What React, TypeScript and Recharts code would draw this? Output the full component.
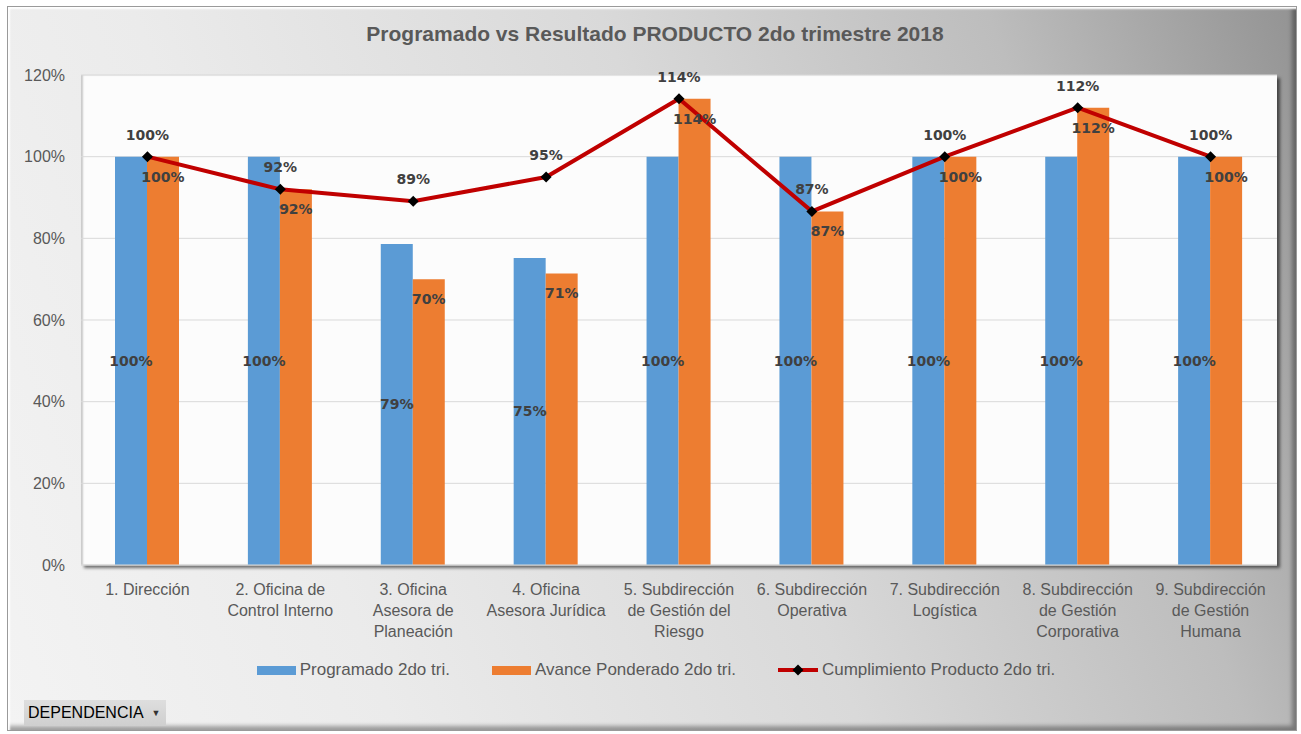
import React from 'react'
import {
  ComposedChart,
  Bar,
  Line,
  XAxis,
  YAxis,
  CartesianGrid,
  Legend,
  LabelList,
} from 'recharts'

const categorias = [
  '1. Dirección',
  '2. Oficina de Control Interno',
  '3. Oficina Asesora de Planeación',
  '4. Oficina Asesora Jurídica',
  '5. Subdirección de Gestión del Riesgo',
  '6. Subdirección Operativa',
  '7. Subdirección Logística',
  '8. Subdirección de Gestión Corporativa',
  '9. Subdirección de Gestión Humana',
]

const lineasEtiqueta = [
  ['1. Dirección'],
  ['2. Oficina de', 'Control Interno'],
  ['3. Oficina', 'Asesora de', 'Planeación'],
  ['4. Oficina', 'Asesora Jurídica'],
  ['5. Subdirección', 'de Gestión del', 'Riesgo'],
  ['6. Subdirección', 'Operativa'],
  ['7. Subdirección', 'Logística'],
  ['8. Subdirección', 'de Gestión', 'Corporativa'],
  ['9. Subdirección', 'de Gestión', 'Humana'],
]

const programado = [100, 100, 78.6, 75.2, 100, 100, 100, 100, 100]
const avance = [100, 92, 70, 71.4, 114.2, 86.6, 100, 112, 100]
const cumplimiento = [100, 92, 89.1, 95, 114.2, 86.6, 100, 112, 100]

const ticksY = [0, 20, 40, 60, 80, 100, 120]

const data = categorias.map((c, i) => ({
  dependencia: c,
  programado: programado[i],
  avance: avance[i],
  cumplimiento: cumplimiento[i],
}))

const FUENTE = '"Liberation Sans", Arial, sans-serif'
const FUENTE_DATOS = '"DejaVu Sans", Verdana, sans-serif'
const pct = (v: any) => `${Math.round(Number(v))}%`

function TickX(props: any) {
  const { x, y, payload } = props
  const idx = categorias.indexOf(payload.value)
  const lineas = lineasEtiqueta[idx] || [payload.value]
  return (
    <text x={x} y={y} textAnchor="middle" fill="#595959" fontSize={16} fontFamily={FUENTE}>
      {lineas.map((l, i) => (
        <tspan key={i} x={x} dy={i === 0 ? 28 : 21}>
          {l}
        </tspan>
      ))}
    </text>
  )
}

function Rombo(props: any) {
  const { cx, cy } = props
  if (cx == null || cy == null) return null
  const r = 5.5
  return <path d={`M${cx},${cy - r}L${cx + r},${cy}L${cx},${cy + r}L${cx - r},${cy}Z`} fill="#000" />
}

function Leyenda() {
  const item = { display: 'flex', alignItems: 'center', gap: 4 } as const
  return (
    <div
      style={{
        display: 'flex',
        justifyContent: 'center',
        gap: 42,
        paddingTop: 15,
        paddingLeft: 14,
        fontFamily: FUENTE,
        fontSize: 17,
        color: '#595959',
        lineHeight: '20px',
      }}
    >
      <div style={item}>
        <span style={{ width: 39, height: 9, background: '#5B9BD5', display: 'inline-block' }} />
        Programado 2do tri.
      </div>
      <div style={item}>
        <span style={{ width: 39, height: 9, background: '#ED7D31', display: 'inline-block' }} />
        Avance Ponderado 2do tri.
      </div>
      <div style={item}>
        <svg width={40} height={12}>
          <line x1={0} y1={6} x2={40} y2={6} stroke="#C00000" strokeWidth={4} />
          <path d="M20,0.5L25.5,6L20,11.5L14.5,6Z" fill="#000" />
        </svg>
        Cumplimiento Producto 2do tri.
      </div>
    </div>
  )
}

export default function App() {
  return (
    <div style={{ position: 'absolute', left: 0, top: 0, width: 1301, height: 734, background: '#fff' }}>
      <div
        style={{
          position: 'absolute',
          left: 7,
          top: 6,
          width: 1288,
          height: 723,
          border: '1px solid #9a9a9a',
          boxShadow: 'inset 2px 2px 2px #fff, inset -4px -4px 4px rgba(0,0,0,0.35)',
          background:
            'linear-gradient(250deg, #939393 0%, #bdbdbd 20%, #d9d9d9 45%, #ebebeb 75%, #f3f3f3 100%)',
        }}
      />
      <div
        style={{
          position: 'absolute',
          left: 81,
          top: 75,
          width: 1196,
          height: 490,
          background: '#fcfcfc',
          boxShadow: '3px 3px 3px rgba(0,0,0,0.55), inset 2px 0 2px rgba(0,0,0,0.2)',
        }}
      />
      <div
        style={{
          position: 'absolute',
          left: 0,
          top: 22,
          width: 1310,
          textAlign: 'center',
          fontFamily: FUENTE,
          fontWeight: 'bold',
          fontSize: 21,
          color: '#595959',
        }}
      >
        Programado vs Resultado PRODUCTO 2do trimestre 2018
      </div>
      <div style={{ position: 'absolute', left: 0, top: 0 }}>
        <ComposedChart
          width={1301}
          height={734}
          data={data}
          margin={{ top: 75, right: 24, left: 21, bottom: 45 }}
          barGap={0}
          barCategoryGap="26%"
        >
          <CartesianGrid vertical={false} stroke="#d9d9d9" />
          <XAxis
            dataKey="dependencia"
            tick={<TickX />}
            tickLine={false}
            tickSize={0}
            axisLine={{ stroke: '#d9d9d9' }}
            height={80}
            interval={0}
          />
          <YAxis
            domain={[0, 120]}
            ticks={ticksY}
            tickFormatter={(v) => `${v}%`}
            tickLine={false}
            axisLine={false}
            tickSize={0}
            tickMargin={16}
            width={60}
            tick={{ fill: '#595959', fontSize: 16, fontFamily: FUENTE }}
          />
          <Legend verticalAlign="bottom" height={44} content={<Leyenda />} />
          <Bar dataKey="programado" name="Programado 2do tri." fill="#5B9BD5" barSize={32} isAnimationActive={false}>
            <LabelList
              dataKey="programado"
              position="center"
              formatter={pct}
              fill="#404040"
              fontSize={14}
              fontWeight="bold"
              fontFamily={FUENTE_DATOS}
            />
          </Bar>
          <Bar dataKey="avance" name="Avance Ponderado 2do tri." fill="#ED7D31" barSize={32} isAnimationActive={false}>
            <LabelList
              dataKey="avance"
              position="insideTop"
              offset={15}
              formatter={pct}
              fill="#404040"
              fontSize={14}
              fontWeight="bold"
              fontFamily={FUENTE_DATOS}
            />
          </Bar>
          <Line
            dataKey="cumplimiento"
            name="Cumplimiento Producto 2do tri."
            stroke="#C00000"
            strokeWidth={4}
            dot={<Rombo />}
            activeDot={false}
            isAnimationActive={false}
          >
            <LabelList
              dataKey="cumplimiento"
              position="top"
              offset={17}
              formatter={pct}
              fill="#404040"
              fontSize={14}
              fontWeight="bold"
              fontFamily={FUENTE_DATOS}
            />
          </Line>
        </ComposedChart>
      </div>
      <div
        style={{
          position: 'absolute',
          left: 24,
          top: 700,
          width: 142,
          height: 26,
          background: 'linear-gradient(#dedede, #cfcfcf)',
          fontFamily: FUENTE,
          fontSize: 16,
          color: '#000',
          display: 'flex',
          alignItems: 'center',
          paddingLeft: 4,
          boxSizing: 'border-box',
        }}
      >
        DEPENDENCIA
        <span style={{ fontSize: 9, marginLeft: 8, color: '#333' }}>▼</span>
      </div>
    </div>
  )
}
